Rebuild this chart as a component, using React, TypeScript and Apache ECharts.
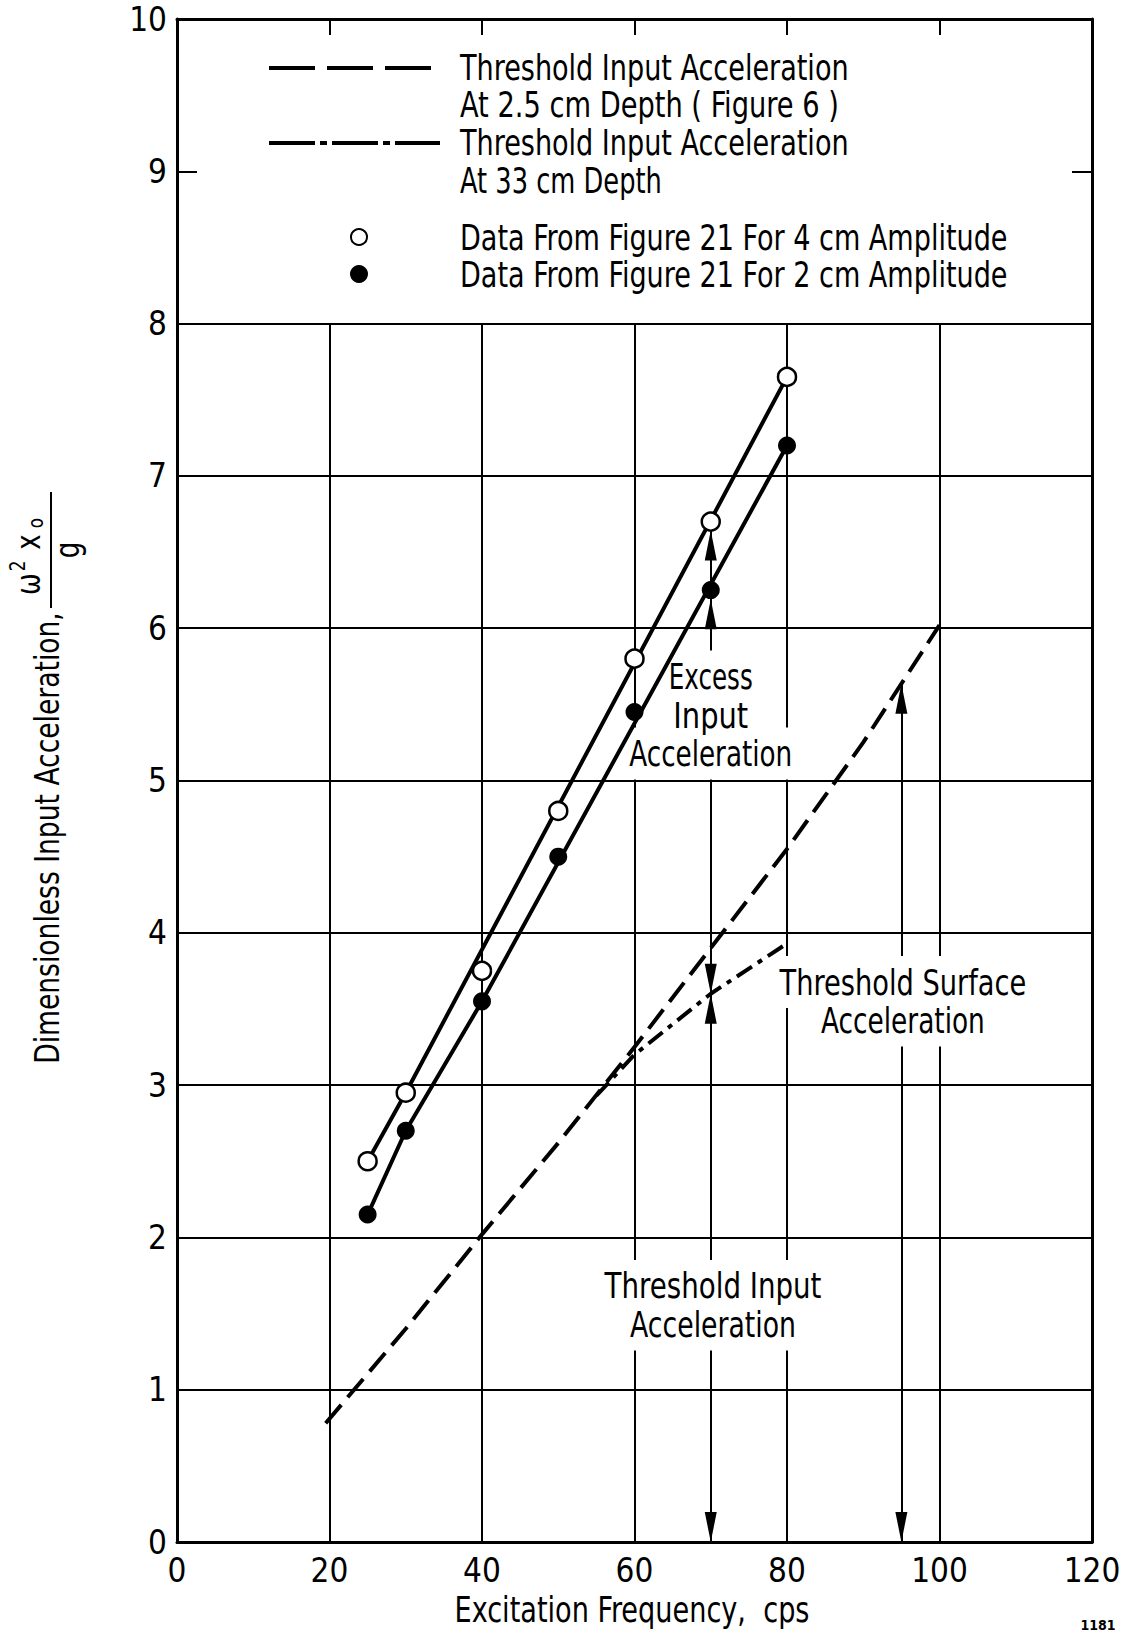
import React, { useEffect, useRef } from "react";
import * as echarts from "echarts";

const FONT =
  "'Liberation Sans Narrow', 'Arial Narrow', 'DejaVu Sans Condensed', 'Roboto Condensed', sans-serif";

// Excitation frequency (cps) of the measured points
const dataFreq = [25, 30, 40, 50, 60, 70, 80];
// Dimensionless input acceleration, data from Figure 21
const amp4cm = [2.5, 2.95, 3.75, 4.8, 5.8, 6.7, 7.65];
const amp2cm = [2.15, 2.7, 3.55, 4.5, 5.45, 6.25, 7.2];

// Straight-line fits drawn through each data set
const fit4cmFreq = [25, 30, 80];
const fit4cmAccel = [2.5, 2.95, 7.65];
const fit2cmFreq = [25, 30, 40, 80];
const fit2cmAccel = [2.15, 2.7, 3.55, 7.2];

// Threshold input acceleration at 2.5 cm depth (Figure 6)
const depth25Freq = [19.5, 30, 40, 50, 60, 70, 80, 90, 100];
const depth25Accel = [0.78, 1.4, 2.02, 2.62, 3.25, 3.9, 4.55, 5.25, 6.02];

// Threshold input acceleration at 33 cm depth
const depth33Freq = [55, 60, 70, 80];
const depth33Accel = [2.93, 3.2, 3.6, 3.93];

// Axis ticks
const xTicks = [0, 20, 40, 60, 80, 100, 120];
const yTicks = [0, 1, 2, 3, 4, 5, 6, 7, 8, 9, 10];

// Grid rules (they stop below the key)
const gridXs = [20, 40, 60, 80, 100];
const gridYs = [1, 2, 3, 4, 5, 6, 7, 8];
const gridTop = 8;

// Frequencies where the dimension arrows are drawn
const excessFreq = 70;
const surfaceFreq = 95;

const zip = (xs: number[], ys: number[]) => xs.map((x, i) => [x, ys[i]]);

const interp = (xs: number[], ys: number[], x: number) => {
  for (let i = 0; i < xs.length - 1; i++) {
    if (x >= xs[i] && x <= xs[i + 1]) {
      const t = (x - xs[i]) / (xs[i + 1] - xs[i]);
      return ys[i] + t * (ys[i + 1] - ys[i]);
    }
  }
  return ys[ys.length - 1];
};

const MARKER = 18;
const ARROW_W = 12;
const ARROW_H = 30;

// width of a string in a given CSS font, used to condense lettering to a set width
let measureCtx: CanvasRenderingContext2D | null = null;
const textWidth = (text: string, font: string) => {
  if (!measureCtx) measureCtx = document.createElement("canvas").getContext("2d");
  measureCtx!.font = font;
  return measureCtx!.measureText(text).width;
};

export default function App() {
  const ref = useRef<HTMLDivElement>(null);

  useEffect(() => {
    document.body.style.margin = "0";
    const chart = echarts.init(ref.current!, null, { renderer: "svg" });

    const idx70 = dataFreq.indexOf(excessFreq);
    const open70 = amp4cm[idx70];
    const filled70 = amp2cm[idx70];
    const deep70 = interp(depth33Freq, depth33Accel, excessFreq);
    const surf95 = interp(depth25Freq, depth25Accel, surfaceFreq);

    // arrowheads: [frequency, tip value, direction, stops at a marker]
    const arrows: [number, number, "up" | "down", boolean][] = [
      [excessFreq, open70, "up", true],
      [excessFreq, filled70, "up", true],
      [excessFreq, deep70, "down", false],
      [excessFreq, deep70, "up", false],
      [excessFreq, 0, "down", false],
      [surfaceFreq, surf95, "up", false],
      [surfaceFreq, 0, "down", false],
    ];

    const axisLineStyle = { color: "#000", width: 3 };
    const labelStyle = { color: "#000", fontFamily: FONT, fontSize: 33 };

    const option: any = {
      animation: false,
      backgroundColor: "#fff",
      grid: { left: 177, right: 33, top: 19, bottom: 92 },
      xAxis: [
        {
          type: "value",
          min: xTicks[0],
          max: xTicks[xTicks.length - 1],
          interval: xTicks[1] - xTicks[0],
          position: "bottom",
          axisLine: { show: true, onZero: false, lineStyle: axisLineStyle },
          axisTick: { show: false },
          splitLine: { show: false },
          axisLabel: { ...labelStyle, margin: 12 },
        },
        {
          type: "value",
          min: xTicks[0],
          max: xTicks[xTicks.length - 1],
          interval: xTicks[1] - xTicks[0],
          position: "top",
          axisLine: { show: true, onZero: false, lineStyle: axisLineStyle },
          axisTick: { show: true, inside: true, length: 16, lineStyle: { color: "#000", width: 2 } },
          splitLine: { show: false },
          axisLabel: { show: false },
        },
      ],
      yAxis: [
        {
          type: "value",
          min: yTicks[0],
          max: yTicks[yTicks.length - 1],
          interval: yTicks[1] - yTicks[0],
          position: "left",
          axisLine: { show: true, onZero: false, lineStyle: axisLineStyle },
          axisTick: { show: true, inside: true, length: 20, lineStyle: { color: "#000", width: 2 } },
          splitLine: { show: false },
          axisLabel: { ...labelStyle, margin: 10 },
        },
        {
          type: "value",
          min: yTicks[0],
          max: yTicks[yTicks.length - 1],
          interval: yTicks[1] - yTicks[0],
          position: "right",
          axisLine: { show: true, onZero: false, lineStyle: axisLineStyle },
          axisTick: { show: true, inside: true, length: 20, lineStyle: { color: "#000", width: 2 } },
          splitLine: { show: false },
          axisLabel: { show: false },
        },
      ],
      series: [
        {
          // grid rules
          type: "line",
          data: [],
          z: 1,
          silent: true,
          markLine: {
            z: 1,
            silent: true,
            animation: false,
            symbol: ["none", "none"],
            label: { show: false },
            lineStyle: { color: "#000", width: 2, type: "solid" },
            data: [
              ...gridXs.map((x) => [{ coord: [x, 0] }, { coord: [x, gridTop] }]),
              ...gridYs.map((y) => [{ coord: [xTicks[0], y] }, { coord: [xTicks[xTicks.length - 1], y] }]),
            ],
          },
        },
        {
          // dimension leader lines
          type: "line",
          data: [],
          z: 1,
          silent: true,
          markLine: {
            z: 1,
            silent: true,
            animation: false,
            symbol: ["none", "none"],
            label: { show: false },
            lineStyle: { color: "#000", width: 2, type: "solid" },
            data: [
              [{ coord: [excessFreq, 0] }, { coord: [excessFreq, open70] }],
              [{ coord: [surfaceFreq, 0] }, { coord: [surfaceFreq, surf95] }],
            ],
          },
        },
        {
          name: "Threshold 2.5 cm",
          type: "line",
          data: zip(depth25Freq, depth25Accel),
          symbol: "none",
          z: 3,
          lineStyle: { color: "#000", width: 4, type: [24, 10] },
        },
        {
          name: "Threshold 33 cm",
          type: "line",
          data: zip(depth33Freq, depth33Accel),
          symbol: "none",
          z: 3,
          lineStyle: { color: "#000", width: 4, type: [18, 7, 5, 7] },
        },
        {
          name: "Fit 4 cm",
          type: "line",
          data: zip(fit4cmFreq, fit4cmAccel),
          symbol: "none",
          z: 3,
          lineStyle: { color: "#000", width: 4 },
        },
        {
          name: "Fit 2 cm",
          type: "line",
          data: zip(fit2cmFreq, fit2cmAccel),
          symbol: "none",
          z: 3,
          lineStyle: { color: "#000", width: 4 },
        },
        {
          name: "Arrows",
          type: "scatter",
          z: 4,
          symbol: "triangle",
          symbolSize: [ARROW_W, ARROW_H],
          itemStyle: { color: "#000", opacity: 1 },
          data: arrows.map(([x, y, dir, atMarker]) => {
            const shift = ARROW_H / 2 + (atMarker ? MARKER / 2 : 0);
            return {
              value: [x, y],
              symbolRotate: dir === "up" ? 0 : 180,
              symbolOffset: [0, dir === "up" ? shift : -shift],
            };
          }),
        },
        {
          name: "4 cm Amplitude",
          type: "scatter",
          z: 5,
          symbol: "circle",
          symbolSize: MARKER,
          itemStyle: { color: "#fff", borderColor: "#000", borderWidth: 2.5, opacity: 1 },
          data: zip(dataFreq, amp4cm),
        },
        {
          name: "2 cm Amplitude",
          type: "scatter",
          z: 5,
          symbol: "circle",
          symbolSize: MARKER,
          itemStyle: { color: "#000", opacity: 1 },
          data: zip(dataFreq, amp2cm),
        },
      ],
    };

    chart.setOption(option);

    const toPx = (x: number, y: number) =>
      chart.convertToPixel({ seriesIndex: 2 }, [x, y]) as number[];

    const FS = 36;
    const font = `${FS}px ${FONT}`;
    const squeeze = (text: string, width: number, f = font) => width / textWidth(text, f);

    // in-plot notes: each line with its set width; white boxes break the rules behind them
    const notes: { lines: [string, number][]; at: [number, number] }[] = [
      { lines: [["Excess", 84], ["Input", 75], ["Acceleration", 163]], at: [70, 5.43] },
      { lines: [["Threshold Surface", 247], ["Acceleration", 164]], at: [95.2, 3.55] },
      { lines: [["Threshold Input", 217], ["Acceleration", 166]], at: [70.3, 1.555] },
    ];
    const LINE = 38.5;

    const elements: any[] = [];
    notes.forEach((n) => {
      const [cx, cy] = toPx(n.at[0], n.at[1]);
      const y0 = cy - ((n.lines.length - 1) * LINE) / 2;
      n.lines.forEach(([t, w], i) => {
        const base = {
          type: "text",
          x: cx,
          y: y0 + i * LINE,
          z: 2,
          scaleX: squeeze(t, w),
        };
        const textStyle = { text: t, font, align: "center", verticalAlign: "middle" };
        // white box behind the lettering
        elements.push({
          ...base,
          z2: 0,
          style: { ...textStyle, fill: "rgba(255,255,255,0)", backgroundColor: "#fff", padding: [10, 4, 6, 4] },
        });
        // the lettering itself
        elements.push({ ...base, z2: 10, style: { ...textStyle, fill: "#000" } });
      });
    });

    // key
    const keyText = (text: string, y: number, w: number) => ({
      type: "text",
      x: 460,
      y,
      z: 6,
      scaleX: squeeze(text, w),
      style: { text, fill: "#000", font, align: "left", verticalAlign: "middle" },
    });
    elements.push(
      {
        type: "line",
        z: 6,
        shape: { x1: 269, y1: 68, x2: 440, y2: 68 },
        style: { stroke: "#000", lineWidth: 4, lineDash: [46, 12] },
      },
      keyText("Threshold Input Acceleration", 68, 389),
      keyText("At 2.5 cm Depth ( Figure 6 )", 105, 379),
      {
        type: "line",
        z: 6,
        shape: { x1: 269, y1: 143, x2: 440, y2: 143 },
        style: { stroke: "#000", lineWidth: 4, lineDash: [46, 5, 7, 5] },
      },
      keyText("Threshold Input Acceleration", 143, 389),
      keyText("At 33 cm Depth", 181, 202),
      {
        type: "circle",
        z: 6,
        shape: { cx: 359, cy: 237, r: 8 },
        style: { fill: "#fff", stroke: "#000", lineWidth: 2 },
      },
      keyText("Data From Figure 21 For 4 cm Amplitude", 238, 548),
      {
        type: "circle",
        z: 6,
        shape: { cx: 359, cy: 274, r: 9 },
        style: { fill: "#000" },
      },
      keyText("Data From Figure 21 For 2 cm Amplitude", 275, 548)
    );

    // axis titles
    const xTitle = "Excitation Frequency,  cps";
    const yTitle = "Dimensionless Input Acceleration,";
    const yFont = `33px ${FONT}`;
    const small = `22px ${FONT}`;
    const mid = `34px ${FONT}`;
    elements.push(
      {
        type: "text",
        x: 632,
        y: 1610,
        z: 6,
        scaleX: squeeze(xTitle, 355),
        style: { text: xTitle, fill: "#000", font, align: "center", verticalAlign: "middle" },
      },
      {
        type: "text",
        x: 47,
        y: 838,
        rotation: Math.PI / 2,
        z: 6,
        scaleX: squeeze(yTitle, 452, yFont),
        style: { text: yTitle, fill: "#000", font: yFont, align: "center", verticalAlign: "middle" },
      },
      {
        type: "group",
        x: 51,
        y: 550,
        rotation: Math.PI / 2,
        z: 6,
        children: [
          { type: "line", shape: { x1: -58, y1: 0, x2: 58, y2: 0 }, style: { stroke: "#000", lineWidth: 2 } },
          { type: "text", x: -34, y: -23, scaleX: 0.85, style: { text: "ω", fill: "#000", font: mid, align: "center", verticalAlign: "middle" } },
          { type: "text", x: -16, y: -34, scaleX: 0.85, style: { text: "2", fill: "#000", font: small, align: "center", verticalAlign: "middle" } },
          { type: "text", x: 8, y: -23, scaleX: 0.85, style: { text: "x", fill: "#000", font: mid, align: "center", verticalAlign: "middle" } },
          { type: "text", x: 27, y: -16, scaleX: 0.85, style: { text: "o", fill: "#000", font: small, align: "center", verticalAlign: "middle" } },
          { type: "text", x: 0, y: 16, scaleX: 0.85, style: { text: "g", fill: "#000", font: mid, align: "center", verticalAlign: "middle" } },
        ],
      },
      {
        type: "text",
        x: 1098,
        y: 1625,
        z: 6,
        style: { text: "1181", fill: "#000", font: `bold 14px ${FONT}`, align: "center", verticalAlign: "middle" },
      }
    );

    chart.setOption({ graphic: { elements } });

    return () => chart.dispose();
  }, []);

  return <div ref={ref} style={{ width: 1125, height: 1634 }} />;
}
